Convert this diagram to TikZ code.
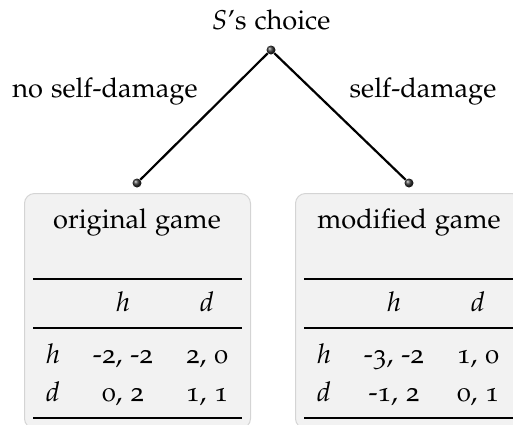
\documentclass[tikz,border=0pt]{standalone}
\usepackage[T1]{fontenc}
\usepackage[osf]{mathpazo}
\begin{document}
\begin{tikzpicture}[x=1pt,y=-1pt,
  txt/.style={font=\fontsize{27.2}{32}\selectfont, anchor=base, inner sep=0pt},
  gamebox/.style={draw=black!17, fill=black!5, rounded corners=10pt, line width=1pt, anchor=north west, minimum width=226pt, minimum height=235pt, inner sep=0pt},
  branch/.style={line width=2.2pt},
  dotnode/.style={circle, inner sep=0pt, minimum size=9pt, shading=ball, ball color=black!80},
  heavyrule/.style={line width=2.6pt},
  lightrule/.style={line width=1.6pt}]
\useasboundingbox (0,0) rectangle (513,424);
\clip (0,0) rectangle (513,424);
% boxes
\node[gamebox] (boxL) at (24,193) {};
\node[gamebox] (boxR) at (295,193) {};
% tree
\node[dotnode] (root) at (271,50) {};
\node[dotnode] (left) at (137,183) {};
\node[dotnode] (right) at (409,183) {};
\draw[branch] (root) -- (left);
\draw[branch] (root) -- (right);
\node[txt] (title) at (271,29) {$S$'s choice};
\node[txt] (labL) at (105,97) {no self-damage};
\node[txt] (labR) at (423,97) {self-damage};
% left table
\node[txt] (og) at (137,228) {original game};
\draw[heavyrule] (33,279) -- (242,279);
\draw[lightrule] (33,328) -- (242,328);
\draw[heavyrule] (33,418) -- (242,418);
\node[txt] (Lch) at (123,311) {$h$};
\node[txt] (Lcd) at (207,311) {$d$};
\node[txt] (Lrh) at (53,363) {$h$};
\node[txt] (Lrd) at (53,401) {$d$};
\node[txt] (L11) at (123,363) {-2, -2};
\node[txt] (L12) at (207,363) {2, 0};
\node[txt] (L21) at (123,401) {0, 2};
\node[txt] (L22) at (207,401) {1, 1};
% right table
\node[txt] (mg) at (409,228) {modified game};
\draw[heavyrule] (304,279) -- (513,279);
\draw[lightrule] (304,328) -- (513,328);
\draw[heavyrule] (304,418) -- (513,418);
\node[txt] (Rch) at (394,311) {$h$};
\node[txt] (Rcd) at (478,311) {$d$};
\node[txt] (Rrh) at (324,363) {$h$};
\node[txt] (Rrd) at (324,401) {$d$};
\node[txt] (R11) at (394,363) {-3, -2};
\node[txt] (R12) at (478,363) {1, 0};
\node[txt] (R21) at (394,401) {-1, 2};
\node[txt] (R22) at (478,401) {0, 1};
\end{tikzpicture}
\end{document}
